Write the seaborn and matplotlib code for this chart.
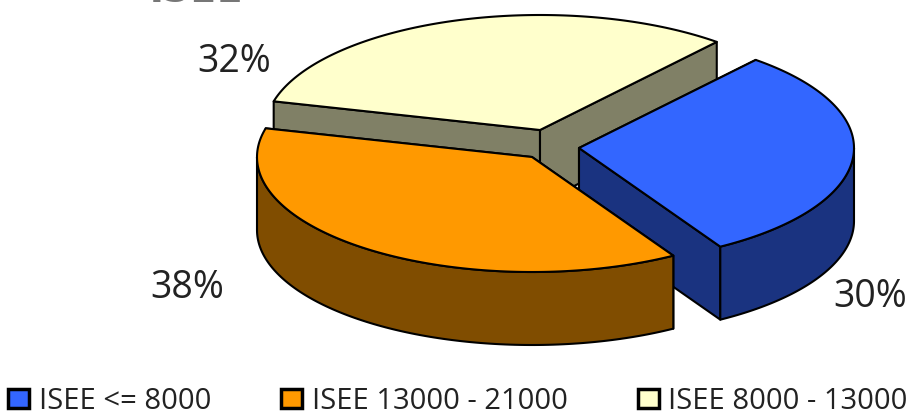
import numpy as np
import matplotlib
matplotlib.use("Agg")
import matplotlib.pyplot as plt
from matplotlib.patches import Patch
import seaborn as sns

# data
categories = ["ISEE <= 8000", "ISEE 13000 - 21000", "ISEE 8000 - 13000"]
shares = [30.3, 37.6, 32.1]
slice_colors = ["#3366FF", "#FF9900", "#FFFFCC"]

# layout (pixel-like axes units)
W, H = 910, 416
RX, RY, DEPTH = 275, 115, 73
START_DEG = 40
APEX = [(579, 148), (532, 157), (540, 130)]
LABEL_XY = [(870, 297), (187, 288), (234, 62)]
DRAW_ORDER = [2, 0, 1]

sns.set_theme(style="white")
plt.rcParams["font.family"] = ["Open Sans", "DejaVu Sans"]

fig = plt.figure(figsize=(W / 100, H / 100), dpi=100)
ax = fig.add_axes([0, 0, 1, 1])
ax.set_xlim(0, W)
ax.set_ylim(H, 0)
ax.axis("off")

fracs = np.asarray(shares, float) / np.sum(shares)
edges = START_DEG + 360 * np.concatenate([[0], np.cumsum(fracs)])


def arc(apex, a0, a1):
    t = np.radians(np.linspace(a0, a1, 120))
    return apex[0] + RX * np.sin(t), apex[1] - RY * np.cos(t)


def draw(xs, ys, face, z):
    ax.fill(xs, ys, facecolor=face, edgecolor="black", linewidth=1.5,
            joinstyle="round", zorder=z)


for z, i in enumerate(DRAW_ORDER):
    apex, a0, a1 = APEX[i], edges[i], edges[i + 1]
    face = np.array(matplotlib.colors.to_rgb(slice_colors[i]))
    dark = face * 0.5
    x, y = arc(apex, a0, a1)
    base = 10 * z
    # radial walls
    for xe, ye in ((x[0], y[0]), (x[-1], y[-1])):
        draw([apex[0], xe, xe, apex[0]],
             [apex[1], ye, ye + DEPTH, apex[1] + DEPTH], dark, base + 1)
    # outer curved wall, the part facing the viewer
    lo, hi = max(a0, 90), min(a1, 270)
    if lo < hi:
        xa, ya = arc(apex, lo, hi)
        draw(np.r_[xa, xa[::-1]], np.r_[ya, ya[::-1] + DEPTH], dark, base + 2)
    # top face
    draw(np.r_[apex[0], x], np.r_[apex[1], y], face, base + 3)
    ax.text(*LABEL_XY[i], f"{round(shares[i])}%", ha="center", va="center",
            fontsize=27, color="#222222", zorder=100)

# cropped title: only the feet of the letters remain inside the picture
ax.text(243, 1.5, "ISEE", ha="right", va="baseline", fontsize=34, fontweight="bold",
        color="#777777", clip_on=True)

handles = [Patch(facecolor=c, edgecolor="black", linewidth=2.5) for c in slice_colors]
ax.legend(handles, categories, loc="lower left", bbox_to_anchor=(8 / W, 0.0), ncol=3,
          frameon=False, fontsize=21, handlelength=0.72, handleheight=0.62,
          handletextpad=0.33, columnspacing=2.4, borderaxespad=0, borderpad=0,
          labelcolor="#222222")

fig.savefig("out.png", dpi=100)
